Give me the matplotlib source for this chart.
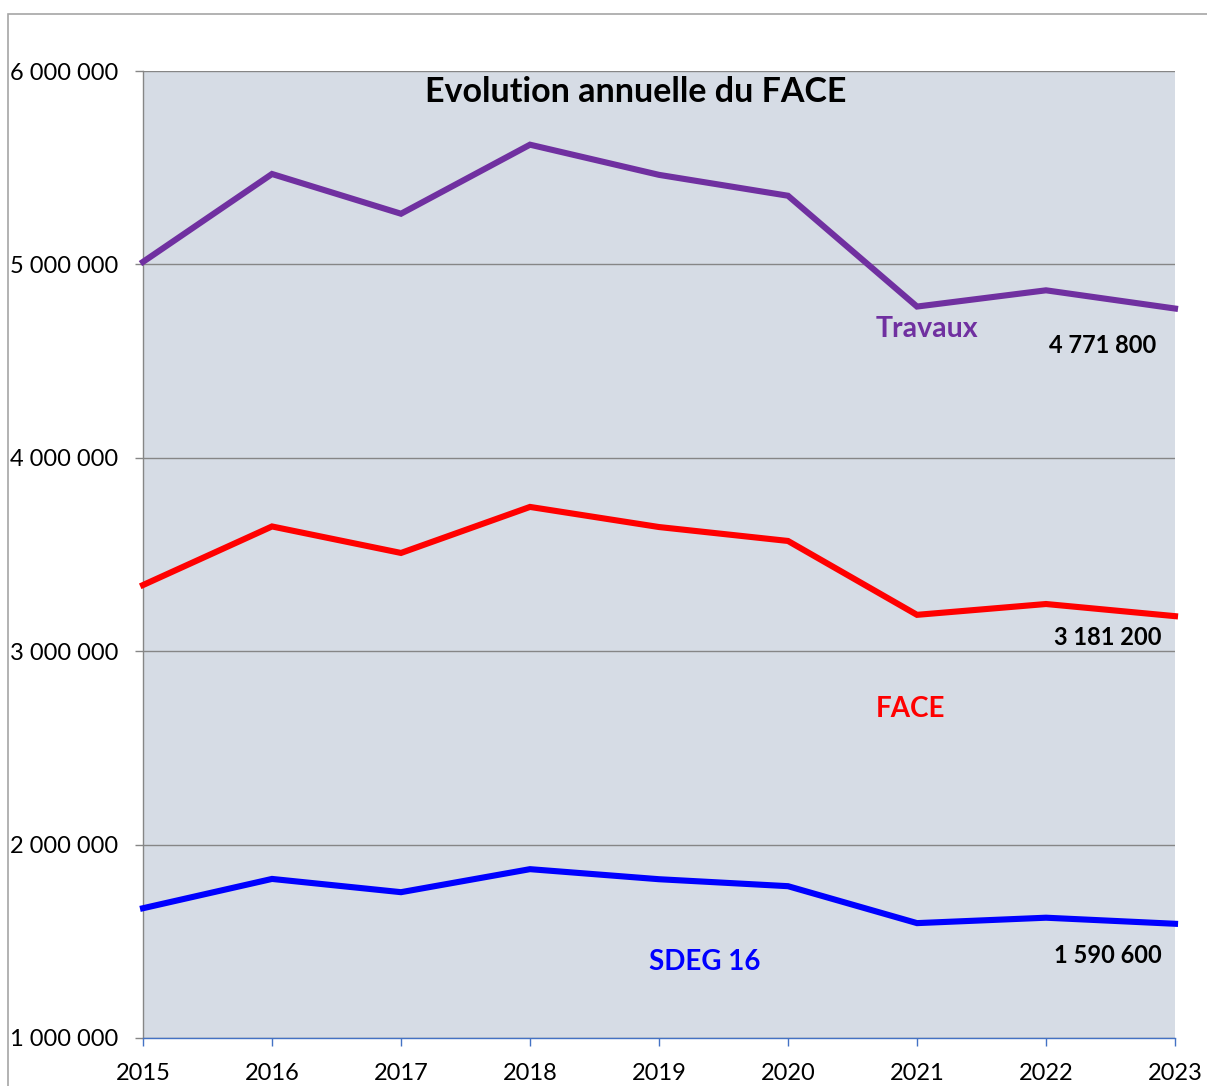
import matplotlib
matplotlib.use("Agg")
import matplotlib.pyplot as plt
from matplotlib.patches import Rectangle
from matplotlib.ticker import FuncFormatter

years = [2015, 2016, 2017, 2018, 2019, 2020, 2021, 2022, 2023]
travaux = [5013000, 5467500, 5262000, 5619000, 5463000, 5355000, 4782000, 4866000, 4771800]
face = [3342000, 3645000, 3508000, 3746000, 3642000, 3570000, 3188000, 3244000, 3181200]
sdeg = [1671000, 1822500, 1754000, 1873000, 1821000, 1785000, 1594000, 1622000, 1590600]
yticks = [1000000, 2000000, 3000000, 4000000, 5000000, 6000000]

plt.rcParams['font.family'] = ['Lato', 'DejaVu Sans']

fig = plt.figure(figsize=(12.07, 10.86), dpi=100)
fig.patches.append(Rectangle((8/1207, -0.1), 1.2, 1 - 14/1086 + 0.1,
                             transform=fig.transFigure, fill=False,
                             edgecolor='#A6A6A6', linewidth=1.2))
ax = fig.add_axes([143/1207, 1 - 1038/1086, (1175-143)/1207, (1038-71)/1086])
ax.set_facecolor('#D6DCE5')

lw = 4.4
ax.plot(years, travaux, color='#7030A0', lw=lw, solid_joinstyle='miter', zorder=3, clip_on=False)
ax.plot(years, face, color='#FF0000', lw=lw, solid_joinstyle='miter', zorder=3, clip_on=False)
ax.plot(years, sdeg, color='#0000FF', lw=lw, solid_joinstyle='miter', zorder=3, clip_on=False)

ax.set_xlim(years[0], years[-1])
ax.set_ylim(1000000, 6000000)
ax.set_xticks(years)
ax.set_yticks(yticks)
ax.yaxis.set_major_formatter(FuncFormatter(lambda v, p: f"{int(v):,}".replace(",", " ")))
ax.grid(axis='y', color='#868686', linewidth=1.0, zorder=1)
ax.set_axisbelow(True)

for s in ['top', 'right']:
    ax.spines[s].set_visible(False)
ax.spines['left'].set_color('#868686')
ax.spines['left'].set_linewidth(1.0)
ax.spines['bottom'].set_color('#4472C4')
ax.spines['bottom'].set_linewidth(1.0)
ax.spines['bottom'].set_zorder(4)

ax.tick_params(axis='y', length=6, width=1, color='#868686', labelsize=17, pad=12)
ax.tick_params(axis='x', length=6, width=1, color='#4472C4', labelsize=17, pad=12)

ax.text(2018.82, 5891000, "Evolution annuelle du FACE", ha='center', va='center',
        fontsize=24.5, fontweight='bold', color='black')

ax.text(2020.68, 4666000, "Travaux", ha='left', va='center', fontsize=20.5,
        fontweight='bold', color='#7030A0')
ax.text(2020.68, 2701000, "FACE", ha='left', va='center', fontsize=20,
        fontweight='bold', color='#FF0000')
ax.text(2018.92, 1393000, "SDEG 16", ha='left', va='center', fontsize=20,
        fontweight='bold', color='#0000FF')

ax.text(2022.44, 4583000, "4 771 800", ha='center', va='center', fontsize=17,
        fontweight='bold', color='black')
ax.text(2022.48, 3073000, "3 181 200", ha='center', va='center', fontsize=17,
        fontweight='bold', color='black')
ax.text(2022.48, 1429000, "1 590 600", ha='center', va='center', fontsize=17,
        fontweight='bold', color='black')

fig.savefig("out.png", dpi=100)
